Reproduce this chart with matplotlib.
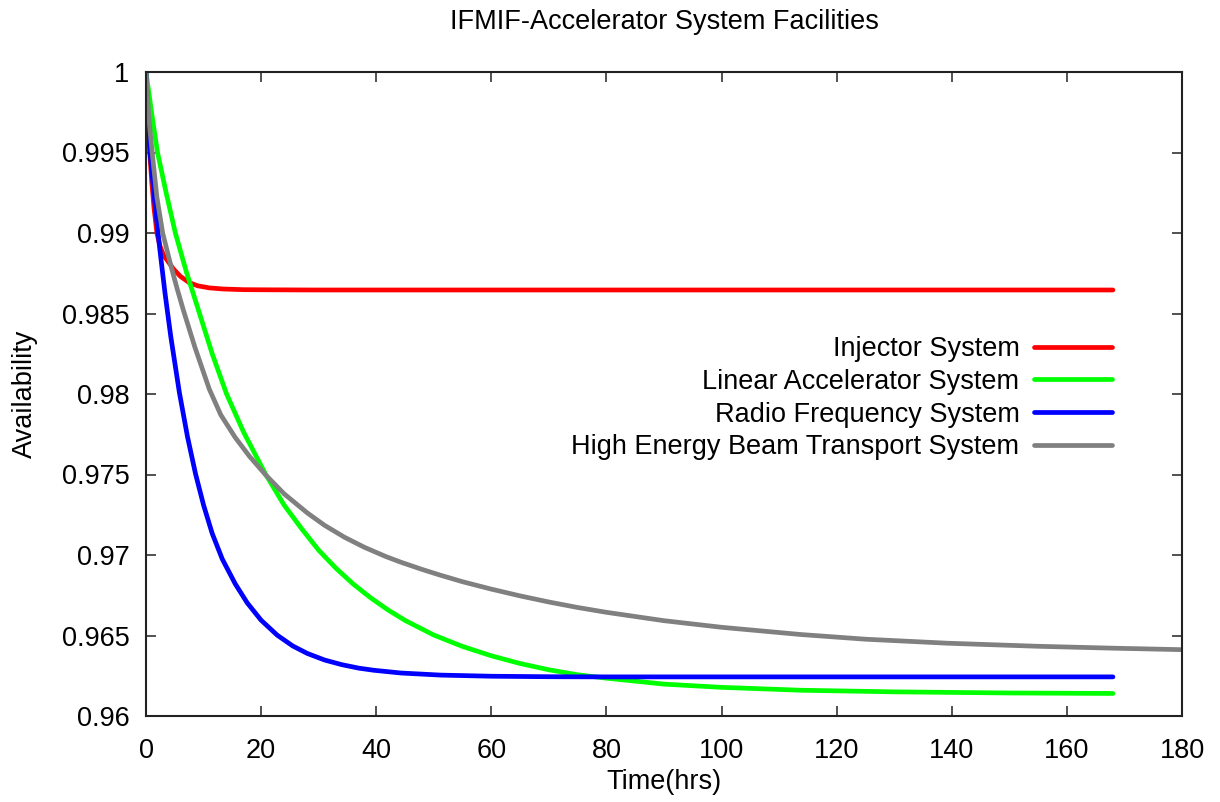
import matplotlib
matplotlib.use("Agg")
import matplotlib.pyplot as plt

plt.rcParams['font.family'] = ['Liberation Sans', 'DejaVu Sans']

# values (time in hours, availability)
inj_t = [0, 0.3, 0.65, 1.0, 1.4, 1.9, 2.4, 3.0, 3.7, 4.8, 6.0, 7.5, 9.0, 11, 13.5, 17, 22, 30, 168]
inj_a = [1.0, 0.99743, 0.9950, 0.99318, 0.99154, 0.9900, 0.98922, 0.98866, 0.98830, 0.98775,
         0.98730, 0.98692, 0.98672, 0.98659, 0.98652, 0.98648, 0.98647, 0.98646, 0.98646]

linac_t = [0, 1, 2, 3.5, 5.1, 7, 9.3, 11.5, 14, 17, 20.8, 24, 27, 30, 33, 36, 39, 42, 45, 50,
           55, 60, 65, 70, 75, 80, 90, 100, 113.8, 130, 150, 168]
linac_a = [1.0, 0.9974, 0.9950, 0.9925, 0.9900, 0.9876, 0.9850, 0.9825, 0.9800, 0.9776, 0.9750,
           0.9731, 0.97165, 0.9703, 0.96918, 0.9682, 0.96735, 0.9666, 0.96594, 0.96503, 0.96432,
           0.96374, 0.96326, 0.96287, 0.96256, 0.96235, 0.96198, 0.96178, 0.96160, 0.96150,
           0.96143, 0.96140]

rf_t = [0, 0.35, 0.7, 1.5, 2.4, 3.3, 4.3, 5.8, 7.2, 8.6, 10, 11.5, 13.25, 15.5, 17.6, 20, 22.8,
        25.5, 28, 31, 34, 37, 39.6, 44.3, 51.2, 60, 70, 80, 168]
rf_a = [1.0, 0.9972, 0.9950, 0.99202, 0.98899, 0.98627, 0.98358, 0.98009, 0.97736, 0.97505,
        0.97310, 0.97134, 0.96975, 0.96821, 0.96702, 0.96595, 0.96502, 0.96435, 0.96389, 0.96348,
        0.96319, 0.96297, 0.96284, 0.96267, 0.96254, 0.96247, 0.96244, 0.96243, 0.96243]

hebt_t = [0, 0.5, 1.07, 1.9, 2.9, 4.3, 5.4, 6.5, 8.5, 11, 13, 15.5, 18, 20.8, 24, 28, 31, 34.5,
          38, 41.7, 44.3, 48, 51.2, 55, 60, 65, 70, 75, 80, 90, 100, 113.8, 125, 139.3, 155,
          168.3, 180]
hebt_a = [1.0, 0.9971, 0.9950, 0.9922, 0.9900, 0.9880, 0.98655, 0.9852, 0.9829, 0.9803, 0.9787,
          0.9773, 0.97612, 0.97497, 0.97380, 0.97262, 0.97185, 0.97110, 0.97047, 0.96990,
          0.96955, 0.96910, 0.96874, 0.96834, 0.96788, 0.96746, 0.96708, 0.96674, 0.96644,
          0.96592, 0.96551, 0.96506, 0.96477, 0.96452, 0.96433, 0.96421, 0.96412]

series = [
    ("Injector System", inj_t, inj_a, "#ff0000"),
    ("Linear Accelerator System", linac_t, linac_a, "#00ff00"),
    ("Radio Frequency System", rf_t, rf_a, "#0000ff"),
    ("High Energy Beam Transport System", hebt_t, hebt_a, "#808080"),
]

x_ticks = [0, 20, 40, 60, 80, 100, 120, 140, 160, 180]
y_ticks = [0.96, 0.965, 0.97, 0.975, 0.98, 0.985, 0.99, 0.995, 1.0]
y_labels = ["0.96", "0.965", "0.97", "0.975", "0.98", "0.985", "0.99", "0.995", "1"]

fig = plt.figure(figsize=(12.2, 8.02), dpi=100)
ax = fig.add_axes([146 / 1220, 1 - 716 / 802, 1036 / 1220, 644 / 802])

for name, t, a, c in series:
    ax.plot(t, a, color=c, lw=3.4, label=name, solid_capstyle='round', solid_joinstyle='round')

ax.set_xlim(0, 180)
ax.set_ylim(0.96, 1.0)
ax.set_xticks(x_ticks)
ax.set_yticks(y_ticks)
ax.set_yticklabels(y_labels)
ax.tick_params(direction='in', length=7, width=1.2, top=True, right=True,
               labelsize=19.5, color='#333333')
ax.tick_params(axis='x', pad=16)
ax.tick_params(axis='y', pad=12)
for s in ax.spines.values():
    s.set_linewidth(1.5)
    s.set_color('#222222')

ax.set_xlabel("Time(hrs)", fontsize=19.5)
ax.xaxis.set_label_coords(0.5, (716 - 782) / 644)
ax.xaxis.label.set_va('center')
ax.set_ylabel("Availability", fontsize=19.5)
ax.yaxis.set_label_coords((25 - 146) / 1036, 0.5)
ax.yaxis.label.set_va('center')

fig.text(664 / 1220, 1 - 22 / 802, "IFMIF-Accelerator System Facilities",
         ha='center', va='center', fontsize=19.5)

ax.legend(loc='upper right', bbox_to_anchor=(0.932, 0.590), frameon=False,
          markerfirst=False, fontsize=19.5, handlelength=2.85, handletextpad=0.55,
          labelspacing=0.25, borderpad=0, borderaxespad=0)

fig.savefig("out.png", dpi=100)
